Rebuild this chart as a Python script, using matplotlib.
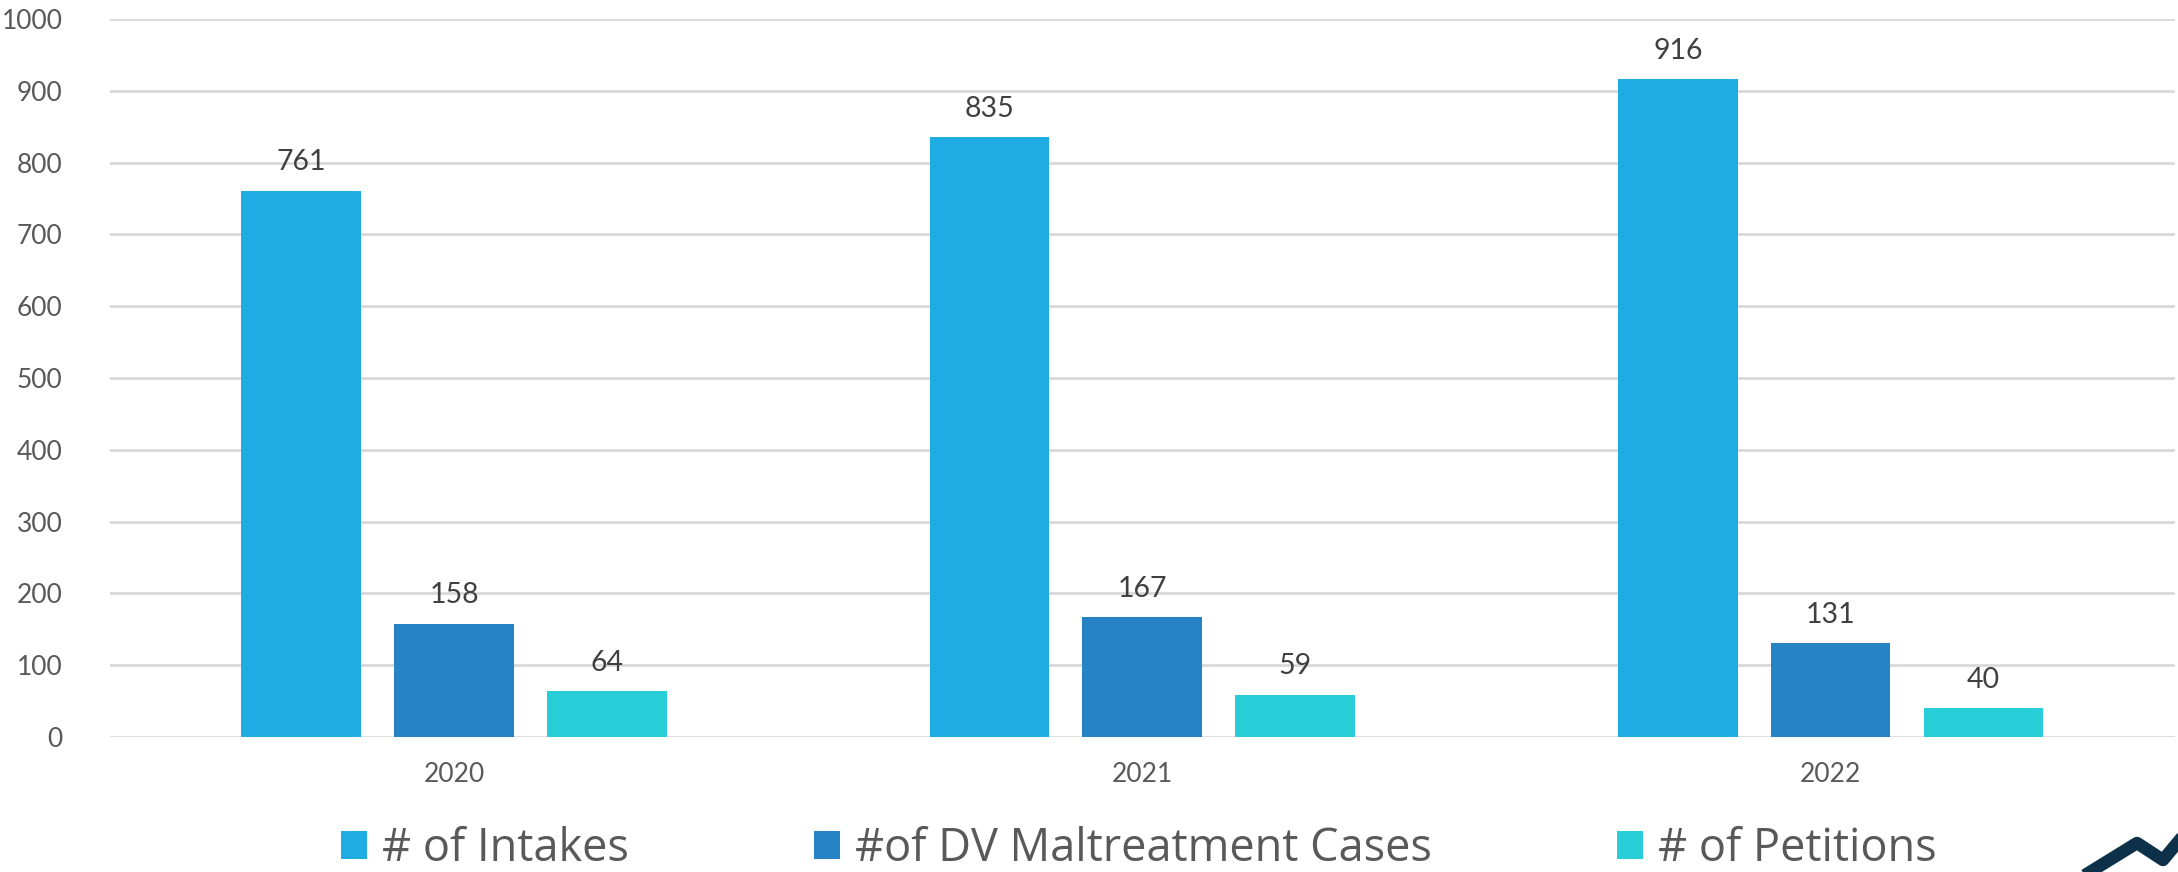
import numpy as np
import matplotlib.pyplot as plt
from matplotlib.lines import Line2D

plt.rcParams['font.family'] = ['Lato', 'DejaVu Sans']

# data
years = ['2020', '2021', '2022']
series_names = ['# of Intakes', '#of DV Maltreatment Cases', '# of Petitions']
intakes = [761, 835, 916]
dv_cases = [158, 167, 131]
petitions = [64, 59, 40]
colors = ['#1FACE3', '#2683C6', '#27CED7']

fig = plt.figure(figsize=(21.78, 8.72), dpi=100)
ax = fig.add_axes([0.0505, 0.1548, 0.948, 0.8234])

x = np.arange(len(years))
width = 0.174
step = 0.222
for i, (vals, name, c) in enumerate(zip([intakes, dv_cases, petitions], series_names, colors)):
    bars = ax.bar(x + (i - 1) * step, vals, width, color=c, label=name, zorder=3)
    for b, v in zip(bars, vals):
        ax.annotate(str(v), (b.get_x() + b.get_width() / 2, v), xytext=(0, 11),
                    textcoords='offset points', ha='center', va='bottom',
                    fontsize=20.5, color='#404040')

ax.set_xlim(-0.5, len(years) - 0.5)
ax.set_ylim(0, 1000)
ax.set_yticks(range(0, 1001, 100))
ax.set_xticks(x)
ax.set_xticklabels(years)
ax.yaxis.grid(True, color='#D9D9D9', linewidth=2, zorder=0)
ax.set_axisbelow(True)
for s in ax.spines.values():
    s.set_visible(False)
ax.tick_params(axis='both', length=0, labelsize=19, labelcolor='#595959')
ax.tick_params(axis='y', pad=34)
ax.tick_params(axis='x', pad=18)

fig.legend(loc='center', bbox_to_anchor=(0.523, 0.026), ncol=3, frameon=False,
           prop={'family': ['Open Sans', 'DejaVu Sans'], 'size': 32.5},
           labelcolor='#595959', handlelength=0.58, handleheight=0.58,
           handletextpad=0.33, columnspacing=4.1)

# partial logo in the bottom-right corner
fig.add_artist(Line2D([2090 / 2178, 2137 / 2178, 2163 / 2178, 2178 / 2178],
                      [0, 29 / 872, 12 / 872, 30 / 872],
                      color='#0D3149', linewidth=9, solid_joinstyle='round',
                      transform=fig.transFigure))

fig.savefig('out.png', dpi=100)
